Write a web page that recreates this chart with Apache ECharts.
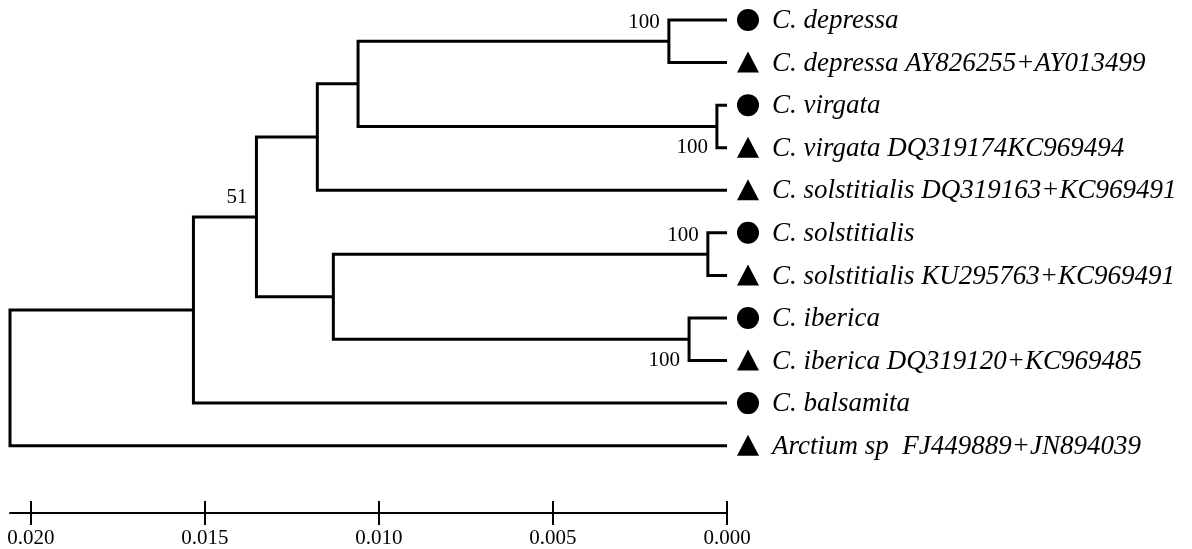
<!DOCTYPE html>
<html>
<head>
<meta charset="utf-8">
<script src="https://cdn.jsdelivr.net/npm/echarts@6/dist/echarts.min.js"></script>
<style>html,body{margin:0;padding:0;background:#fff}#chart{width:1192px;height:549px}</style>
</head>
<body>
<div id="chart"></div>
<script>
// ---- data ----
const leafNames = [
  'C. depressa',
  'C. depressa AY826255+AY013499',
  'C. virgata',
  'C. virgata DQ319174KC969494',
  'C. solstitialis DQ319163+KC969491',
  'C. solstitialis',
  'C. solstitialis KU295763+KC969491',
  'C. iberica',
  'C. iberica DQ319120+KC969485',
  'C. balsamita',
  'Arctium sp  FJ449889+JN894039'
];
const leafSymbols = ['circle','triangle','circle','triangle','triangle','circle','triangle','circle','triangle','circle','triangle'];
const nodeIds   = ['root','A','B','D','E','F','G','C','H','I'];
const nodeDist  = [0.0206, 0.01533, 0.01352, 0.01177, 0.01060, 0.00167, 0.00029, 0.01131, 0.00055, 0.00109];
const nodeKids  = [['A','L10'],['B','L9'],['D','C'],['E','L4'],['F','G'],['L0','L1'],['L2','L3'],['H','I'],['L5','L6'],['L7','L8']];
const supportNodes  = ['F','G','B','H','I'];
const supportValues = [100, 100, 51, 100, 100];
const supportAbove  = [true, false, true, true, false];
const tickValues = [0, 0.005, 0.010, 0.015, 0.020];

// ---- derived tree geometry (values only) ----
function distOf(id){ return id[0]==='L' ? 0 : nodeDist[nodeIds.indexOf(id)]; }
function rowOf(id){
  if (id[0]==='L') return +id.slice(1);
  const k = nodeKids[nodeIds.indexOf(id)];
  return (rowOf(k[0]) + rowOf(k[1])) / 2;
}
const edgeData = nodeIds.map((id,i)=>{
  const k = nodeKids[i];
  return [nodeDist[i], rowOf(k[0]), rowOf(k[1]), distOf(k[0]), distOf(k[1])];
});
const supportData = supportNodes.map((id,i)=>[distOf(id), rowOf(id), supportValues[i], supportAbove[i]?1:0]);
const leafData = leafNames.map((n,i)=>[0, i, n, leafSymbols[i]]);

const chart = echarts.init(document.getElementById('chart'), null, {renderer:'canvas'});
const FONT = '"Liberation Serif","Times New Roman",serif';
chart.setOption({
  animation:false,
  grid:{left:10, right:465, top:20, bottom:31, containLabel:false},
  xAxis:[{
    type:'value', inverse:true, min:0, max:0.0206, position:'bottom',
    splitLine:{show:false},
    axisLine:{show:true, onZero:false, lineStyle:{color:'#000', width:2}},
    axisTick:{show:true, length:12, lineStyle:{color:'#000', width:2}, customValues:tickValues},
    axisLabel:{show:true, color:'#000', fontFamily:FONT, fontSize:21, margin:15, customValues:tickValues,
      formatter:v=>v.toFixed(3)}
  },{
    type:'value', inverse:true, min:0, max:0.0206, position:'bottom', offset:0,
    splitLine:{show:false},
    axisLine:{show:false, onZero:false},
    axisTick:{show:true, inside:true, length:12, lineStyle:{color:'#000', width:2}, customValues:tickValues},
    axisLabel:{show:false}
  }],
  yAxis:{type:'value', inverse:true, min:0, max:498/43, show:false},
  series:[{
    type:'custom', xAxisIndex:0, coordinateSystem:'cartesian2d',
    encode:{x:0, y:1},
    data:edgeData,
    renderItem:function(params, api){
      const nx = api.value(0), y1 = api.value(1), y2 = api.value(2), c1 = api.value(3), c2 = api.value(4);
      const p1 = api.coord([c1, y1]), p2 = api.coord([nx, y1]), p3 = api.coord([nx, y2]), p4 = api.coord([c2, y2]);
      return {type:'polyline', shape:{points:[p1,p2,p3,p4]},
        style:{stroke:'#000', lineWidth:3, fill:null, lineJoin:'miter', lineCap:'butt'}};
    }
  },{
    type:'custom', coordinateSystem:'cartesian2d',
    encode:{x:0, y:1},
    data:supportData,
    renderItem:function(params, api){
      const p = api.coord([api.value(0), api.value(1)]);
      const above = api.value(3) === 1;
      return {type:'text', style:{text:String(api.value(2)), x:p[0]-9, y:p[1]+(above?-19:21),
        align:'right', verticalAlign:'middle', fill:'#000', font:'21px '+FONT}};
    }
  },{
    type:'custom', coordinateSystem:'cartesian2d',
    encode:{x:0, y:1},
    data:leafData,
    renderItem:function(params, api){
      const p = api.coord([api.value(0), api.value(1)]);
      const d = leafData[params.dataIndex];
      const cx = p[0]+21, cy = p[1];
      const mark = d[3]==='circle'
        ? {type:'circle', shape:{cx:cx, cy:cy, r:11}, style:{fill:'#000'}}
        : {type:'polygon', shape:{points:[[cx, cy-11],[cx+11, cy+10],[cx-11, cy+10]]}, style:{fill:'#000'}};
      return {type:'group', children:[mark,
        {type:'text', style:{text:d[2], x:p[0]+45, y:cy+1, align:'left', verticalAlign:'middle',
          fill:'#000', font:'italic 27px '+FONT}}]};
    }
  }]
});
</script>
</body>
</html>
